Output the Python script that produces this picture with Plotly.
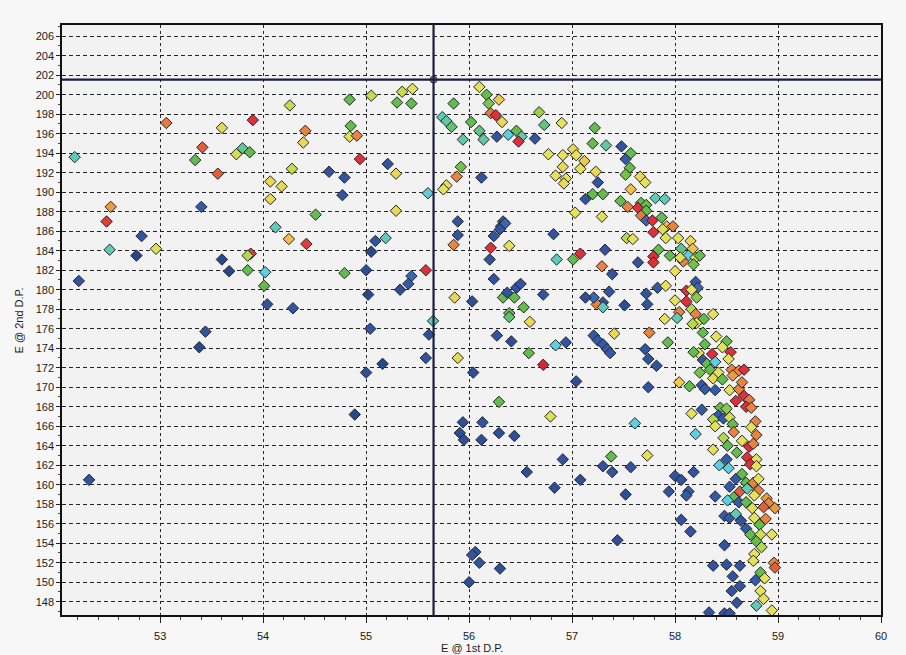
import plotly.graph_objects as go

# ---------------- data ----------------
# left cluster (E@1st < 55.7)
left_e1 = [52.17, 53.06, 53.90, 53.60, 53.41, 53.34, 53.80, 53.74, 53.87, 53.56, 52.52, 52.48, 52.51, 52.82,
           52.77, 52.96, 52.21, 53.40, 53.60, 53.67, 53.85, 53.88, 53.85, 54.02, 54.01, 54.04, 54.29, 54.26,
           54.41, 54.39, 54.28, 54.07, 54.18, 54.07, 54.51, 54.12, 54.25, 54.42, 52.31, 53.38, 53.44, 54.84,
           55.05, 55.35, 55.45, 55.30, 55.44, 54.85, 54.84, 54.91, 54.94, 54.64, 54.79, 55.21, 55.29, 54.77,
           55.29, 55.60, 55.09, 55.19, 55.05, 54.79, 55.00, 55.44, 55.58, 55.41, 55.33, 55.02, 55.65, 55.04,
           55.61, 55.58, 55.16, 55.00, 54.89]
left_e2 = [193.6, 197.1, 197.4, 196.6, 194.6, 193.3, 194.5, 193.9, 194.1, 191.9, 188.5, 187.0, 184.1, 185.5,
           183.5, 184.2, 180.9, 188.5, 183.1, 181.9, 182.0, 183.7, 183.5, 181.8, 180.4, 178.5, 178.1, 198.9,
           196.3, 195.1, 192.4, 191.1, 190.6, 189.3, 187.7, 186.4, 185.2, 184.7, 160.5, 174.1, 175.7, 199.5,
           199.9, 200.3, 200.6, 199.2, 199.1, 196.8, 195.7, 195.8, 193.4, 192.1, 191.5, 192.9, 191.9, 189.7,
           188.1, 189.9, 185.0, 185.3, 183.9, 181.7, 182.0, 181.4, 182.0, 180.6, 180.0, 179.5, 176.8, 176.0,
           175.4, 173.0, 172.4, 171.5, 167.2]
left_score = [0.35, 0.80, 0.92, 0.65, 0.85, 0.45, 0.38, 0.60, 0.45, 0.85, 0.75, 0.90, 0.35, 0.10,
              0.05, 0.62, 0.10, 0.12, 0.05, 0.05, 0.45, 0.90, 0.55, 0.30, 0.45, 0.10, 0.10, 0.58,
              0.78, 0.65, 0.58, 0.65, 0.65, 0.65, 0.45, 0.35, 0.70, 0.90, 0.10, 0.05, 0.10, 0.45,
              0.58, 0.58, 0.63, 0.45, 0.45, 0.45, 0.62, 0.78, 0.92, 0.10, 0.10, 0.10, 0.65, 0.10,
              0.65, 0.32, 0.10, 0.35, 0.05, 0.45, 0.08, 0.15, 0.92, 0.12, 0.08, 0.05, 0.35, 0.10,
              0.08, 0.10, 0.05, 0.08, 0.05]

# middle cluster (55.7 <= E@1st < 57.6)
mid_e1 = [56.10, 56.17, 56.29, 56.19, 55.85, 56.21, 56.26, 56.32, 55.74, 55.78, 55.83, 56.02, 56.10, 56.14,
          55.94, 56.27, 56.38, 56.46, 56.51, 56.48, 56.64, 56.68, 56.73, 56.90, 57.22, 57.20, 57.33, 57.48,
          57.52, 57.57, 57.56, 57.52, 56.77, 56.91, 57.01, 57.04, 57.12, 57.08, 57.23, 56.91, 56.84, 56.94,
          56.92, 57.25, 57.57, 57.20, 57.30, 57.13, 57.47, 57.54, 57.03, 57.29, 55.89, 55.89, 55.85, 55.88,
          55.92, 55.78, 55.75, 56.12, 56.33, 56.31, 56.35, 56.30, 56.24, 56.21, 56.39, 56.20, 56.82, 56.85,
          57.01, 57.08, 57.32, 57.29, 57.39, 57.53, 56.24, 55.86, 56.03, 56.33, 56.37, 56.44, 56.46, 56.50,
          56.53, 56.39, 56.39, 56.59, 56.72, 56.27, 56.41, 55.89, 56.04, 56.58, 56.72, 56.84, 56.94, 57.04,
          56.29, 56.79, 55.94, 56.13, 55.91, 55.95, 56.12, 56.29, 56.44, 56.91, 56.56, 56.83, 57.08, 57.30,
          57.38, 57.39, 57.57, 57.52, 57.44, 56.06, 56.03, 56.10, 56.30, 56.00, 57.30, 57.24, 57.30, 57.21,
          57.13, 57.36, 57.51, 57.21, 57.25, 57.30, 57.34, 57.37, 57.41]
mid_e2 = [200.8, 200.0, 199.5, 199.1, 199.1, 198.1, 197.9, 197.2, 197.7, 197.3, 196.7, 197.2, 196.3, 195.4,
          195.4, 195.7, 195.9, 196.3, 195.7, 195.2, 195.5, 198.2, 196.9, 197.1, 196.6, 195.0, 194.8, 194.7,
          193.4, 194.0, 192.5, 191.8, 193.9, 193.8, 194.4, 193.8, 193.2, 192.4, 192.1, 192.6, 191.7, 191.4,
          190.9, 191.0, 190.3, 189.8, 189.8, 189.3, 189.1, 188.5, 187.9, 187.5, 187.0, 185.6, 184.6, 191.6,
          192.6, 190.7, 190.3, 191.5, 187.0, 186.5, 186.8, 186.2, 185.5, 184.3, 184.5, 183.1, 185.7, 183.1,
          183.1, 183.7, 184.1, 182.4, 181.6, 185.3, 181.1, 179.2, 178.8, 179.2, 179.7, 179.2, 180.2, 180.6,
          178.2, 177.6, 177.2, 176.7, 179.5, 175.3, 174.7, 173.0, 171.5, 173.5, 172.3, 174.3, 174.6, 170.6,
          168.5, 167.0, 166.4, 166.4, 165.3, 164.6, 164.6, 165.3, 165.0, 162.6, 161.3, 159.7, 160.5, 161.9,
          162.9, 161.3, 161.8, 159.0, 154.3, 153.1, 152.8, 152.0, 151.4, 150.0, 178.7, 178.5, 178.2, 179.2,
          179.2, 179.8, 178.4, 175.3, 174.8, 174.4, 173.9, 173.5, 175.5]
mid_score = [0.63, 0.45, 0.68, 0.48, 0.45, 0.80, 0.92, 0.65, 0.35, 0.37, 0.42, 0.45, 0.40, 0.37,
             0.37, 0.10, 0.30, 0.45, 0.35, 0.92, 0.10, 0.52, 0.40, 0.63, 0.45, 0.45, 0.37, 0.10,
             0.12, 0.45, 0.45, 0.47, 0.63, 0.63, 0.65, 0.63, 0.68, 0.63, 0.65, 0.65, 0.63, 0.63,
             0.65, 0.10, 0.70, 0.45, 0.45, 0.10, 0.45, 0.78, 0.63, 0.62, 0.10, 0.10, 0.78, 0.78,
             0.47, 0.62, 0.63, 0.10, 0.12, 0.12, 0.15, 0.10, 0.10, 0.92, 0.63, 0.10, 0.10, 0.35,
             0.45, 0.92, 0.10, 0.78, 0.10, 0.55, 0.10, 0.65, 0.08, 0.45, 0.10, 0.45, 0.10, 0.10,
             0.45, 0.45, 0.42, 0.65, 0.10, 0.10, 0.08, 0.65, 0.08, 0.45, 0.95, 0.30, 0.10, 0.08,
             0.45, 0.62, 0.08, 0.10, 0.08, 0.08, 0.08, 0.08, 0.08, 0.10, 0.08, 0.08, 0.08, 0.10,
             0.45, 0.10, 0.10, 0.08, 0.08, 0.10, 0.10, 0.10, 0.08, 0.08, 0.10, 0.78, 0.35, 0.15,
             0.08, 0.10, 0.08, 0.12, 0.12, 0.12, 0.12, 0.12, 0.65]

# right arc (E@1st >= 57.6)
arc_e1 = [57.61, 57.73, 57.72, 57.73, 57.75, 57.71, 57.74, 57.74, 57.64, 57.66, 57.71, 57.67, 57.64, 57.72,
          57.81, 57.90, 57.72, 57.67, 57.72, 57.78, 57.79, 57.87, 57.92, 57.98, 57.88, 57.91, 58.03, 58.15,
          57.59, 57.84, 58.06, 58.17, 58.13, 58.08, 58.20, 58.24, 58.18, 58.05, 57.95, 57.79, 57.79, 58.00,
          57.83, 57.91, 58.20, 58.22, 58.11, 58.16, 58.11, 58.21, 58.00, 58.16, 58.04, 58.02, 58.20, 58.21,
          58.28, 58.37, 57.90, 58.17, 57.93, 58.27, 58.40, 58.29, 58.50, 58.46, 58.36, 58.54, 58.23, 58.18,
          58.27, 58.31, 58.39, 58.52, 58.55, 58.62, 58.67, 58.34, 58.24, 58.42, 58.37, 58.46, 58.04, 58.14,
          58.26, 58.29, 58.39, 58.53, 58.62, 58.65, 58.56, 58.67, 58.59, 58.72, 58.69, 58.74, 58.44, 58.50,
          58.26, 58.16, 58.42, 58.47, 58.53, 58.37, 58.56, 58.78, 58.74, 58.39, 58.57, 58.79, 58.20, 58.47,
          58.51, 58.65, 58.72, 58.76, 58.37, 58.60, 58.50, 58.70, 58.79, 58.43, 58.73, 57.82, 58.18, 58.00,
          58.06, 57.94, 58.13, 58.11, 58.06, 58.15, 58.39, 58.52, 58.59, 58.65, 58.69, 58.76, 58.81, 58.79,
          58.53, 58.63, 58.70, 58.81, 58.89, 58.91, 58.86, 58.97, 58.57, 58.51, 58.62, 58.69, 58.77, 58.75,
          58.48, 58.53, 58.59, 58.64, 58.77, 58.82, 58.88, 58.94, 58.69, 58.73, 58.83, 58.79, 58.48, 58.84,
          58.77, 58.76, 58.96, 58.97, 58.37, 58.50, 58.63, 58.56, 58.83, 58.87, 58.63, 58.78, 58.55, 58.83,
          58.60, 58.86, 58.79, 58.94, 58.33, 58.48, 58.53]
arc_e2 = [166.3, 163.0, 179.6, 178.5, 175.6, 173.9, 172.9, 170.0, 182.8, 191.6, 191.0, 188.9, 188.4, 188.7,
          189.4, 189.3, 188.1, 187.6, 187.1, 187.1, 185.9, 187.4, 186.5, 186.5, 186.2, 185.3, 185.3, 185.0,
          185.2, 184.1, 184.2, 184.2, 183.5, 182.9, 183.3, 183.5, 182.6, 183.3, 183.5, 183.4, 182.8, 181.9,
          180.2, 180.4, 180.8, 180.2, 179.9, 180.0, 178.8, 179.2, 178.9, 178.0, 177.7, 177.1, 177.5, 176.6,
          177.0, 177.5, 177.0, 176.5, 174.6, 175.6, 175.2, 174.4, 174.7, 174.1, 173.4, 173.6, 173.5, 173.6,
          172.8, 172.4, 172.6, 172.9, 171.8, 171.7, 171.8, 171.8, 171.5, 171.5, 170.9, 170.8, 170.5, 170.1,
          170.2, 169.8, 169.7, 169.7, 169.8, 170.5, 171.2, 169.1, 168.6, 168.7, 168.0, 167.9, 167.9, 167.8,
          167.7, 167.3, 167.1, 166.8, 166.9, 166.7, 166.2, 166.5, 165.9, 166.0, 165.4, 165.1, 165.2, 164.8,
          164.0, 164.5, 163.9, 164.2, 163.6, 163.3, 162.6, 162.8, 162.6, 162.0, 162.1, 172.2, 161.3, 160.9,
          160.5, 159.3, 159.3, 158.9, 156.4, 155.2, 158.8, 161.7, 160.6, 161.1, 160.2, 160.2, 160.6, 161.9,
          159.8, 159.3, 159.6, 159.4, 158.6, 158.1, 157.7, 157.6, 158.7, 158.4, 158.2, 158.2, 158.9, 157.6,
          156.8, 156.6, 157.0, 156.3, 156.6, 155.9, 156.5, 154.9, 155.5, 154.9, 154.9, 154.2, 153.8, 153.6,
          152.9, 152.2, 152.0, 151.5, 151.7, 151.8, 151.7, 150.6, 151.0, 150.4, 149.6, 150.2, 149.1, 149.1,
          147.9, 148.3, 147.6, 147.1, 146.9, 146.8, 146.8]
arc_score = [0.30, 0.62, 0.10, 0.10, 0.78, 0.10, 0.10, 0.10, 0.10, 0.65, 0.63, 0.45, 0.92, 0.45,
             0.35, 0.35, 0.45, 0.80, 0.15, 0.92, 0.92, 0.45, 0.70, 0.78, 0.62, 0.63, 0.63, 0.65,
             0.63, 0.45, 0.40, 0.70, 0.30, 0.78, 0.63, 0.45, 0.47, 0.62, 0.45, 0.92, 0.92, 0.63,
             0.12, 0.63, 0.12, 0.15, 0.92, 0.63, 0.92, 0.50, 0.63, 0.55, 0.78, 0.35, 0.78, 0.63,
             0.45, 0.63, 0.63, 0.55, 0.45, 0.45, 0.63, 0.45, 0.45, 0.63, 0.92, 0.92, 0.63, 0.45,
             0.12, 0.45, 0.30, 0.63, 0.78, 0.78, 0.92, 0.45, 0.47, 0.63, 0.65, 0.45, 0.68, 0.45,
             0.12, 0.12, 0.12, 0.63, 0.78, 0.78, 0.75, 0.92, 0.92, 0.80, 0.92, 0.78, 0.45, 0.50,
             0.12, 0.63, 0.12, 0.12, 0.60, 0.55, 0.45, 0.78, 0.63, 0.63, 0.78, 0.78, 0.30, 0.55,
             0.45, 0.63, 0.92, 0.78, 0.63, 0.45, 0.12, 0.92, 0.63, 0.30, 0.92, 0.10, 0.10, 0.10,
             0.10, 0.10, 0.12, 0.12, 0.10, 0.10, 0.12, 0.30, 0.12, 0.45, 0.45, 0.78, 0.63, 0.63,
             0.12, 0.85, 0.35, 0.78, 0.75, 0.78, 0.85, 0.75, 0.45, 0.30, 0.12, 0.45, 0.63, 0.62,
             0.12, 0.12, 0.35, 0.10, 0.63, 0.45, 0.78, 0.63, 0.12, 0.45, 0.60, 0.45, 0.10, 0.55,
             0.63, 0.63, 0.78, 0.85, 0.10, 0.10, 0.10, 0.10, 0.45, 0.63, 0.10, 0.12, 0.10, 0.63,
             0.10, 0.63, 0.35, 0.63, 0.10, 0.10, 0.10]

# cursor (crosshair) position
cursor_e1 = 55.655
cursor_e2 = 201.55

x_range = [52.047, 60.0]
y_range = [146.64, 207.15]
x_ticks = [53, 54, 55, 56, 57, 58, 59, 60]
y_ticks = list(range(148, 207, 2))
x_title = 'E @ 1st D.P.'
y_title = 'E @ 2nd D.P.'

# ---------------- figure ----------------
colorscale = [
    [0.00, '#203a78'], [0.10, '#3153a0'], [0.20, '#3c78c8'], [0.30, '#5ccfe0'],
    [0.37, '#62c7a8'], [0.45, '#62bd4c'], [0.55, '#b5d84a'], [0.63, '#e6e15a'],
    [0.70, '#f0c04a'], [0.78, '#e8843f'], [0.86, '#e05a3a'], [0.93, '#e0283a'],
    [1.00, '#c81a28'],
]

xs = left_e1 + mid_e1 + arc_e1
ys = left_e2 + mid_e2 + arc_e2
cs = left_score + mid_score + arc_score

font_family = "Liberation Sans Narrow, Arial Narrow, Liberation Sans, Arial, sans-serif"

fig = go.Figure()
fig.add_trace(go.Scatter(
    x=xs, y=ys, mode='markers',
    marker=dict(symbol='diamond', size=8.8, color=cs, colorscale=colorscale,
                cmin=0, cmax=1, line=dict(color='#262626', width=1)),
    showlegend=False, hoverinfo='x+y'))

# crosshair
fig.add_shape(type='line', xref='x', yref='y', x0=x_range[0], x1=x_range[1],
              y0=cursor_e2, y1=cursor_e2, line=dict(color='#1b1f3b', width=2.2), layer='above')
fig.add_shape(type='line', xref='x', yref='y', x0=cursor_e1, x1=cursor_e1,
              y0=y_range[0], y1=y_range[1], line=dict(color='#1b1f3b', width=2.2), layer='above')
fig.add_trace(go.Scatter(
    x=[cursor_e1], y=[cursor_e2], mode='markers',
    marker=dict(symbol='circle', size=7, color='#8a8aa6', line=dict(color='#3a3a5a', width=1)),
    showlegend=False, hoverinfo='skip'))

# axis titles
fig.add_annotation(text=x_title, xref='paper', yref='paper', x=0.5, y=-0.056,
                   xanchor='center', yanchor='middle', showarrow=False, font=dict(size=11))
fig.add_annotation(text=y_title, xref='paper', yref='paper', x=-0.052, y=0.5,
                   xanchor='center', yanchor='middle', textangle=-90, showarrow=False,
                   font=dict(size=11))

fig.update_layout(
    width=906, height=655,
    margin=dict(l=62, r=25, t=25, b=40),
    paper_bgcolor='#f7f7f7', plot_bgcolor='#f2f2f2',
    font=dict(family=font_family, size=11, color='#1a1a1a'),
)
fig.update_xaxes(
    range=x_range, tickvals=x_ticks, ticks='outside', ticklen=6, tickcolor='#222',
    ticklabelstandoff=4,
    showline=True, linecolor='#111', linewidth=1.5, mirror=True,
    showgrid=True, gridcolor='#2a2a2a', gridwidth=1, griddash='3px,3px',
    zeroline=False,
    minor=dict(dtick=0.2, ticks='outside', ticklen=3, tickcolor='#444', showgrid=False),
)
fig.update_yaxes(
    range=y_range, tickvals=y_ticks, ticks='outside', ticklen=4, tickcolor='#222',
    showline=True, linecolor='#111', linewidth=1.5, mirror=True,
    showgrid=True, gridcolor='#222', gridwidth=1.2, griddash='4px,3px',
    zeroline=False,
    minor=dict(dtick=1, ticks='outside', ticklen=2, tickcolor='#444', showgrid=False),
)

fig.write_html("out.html")
